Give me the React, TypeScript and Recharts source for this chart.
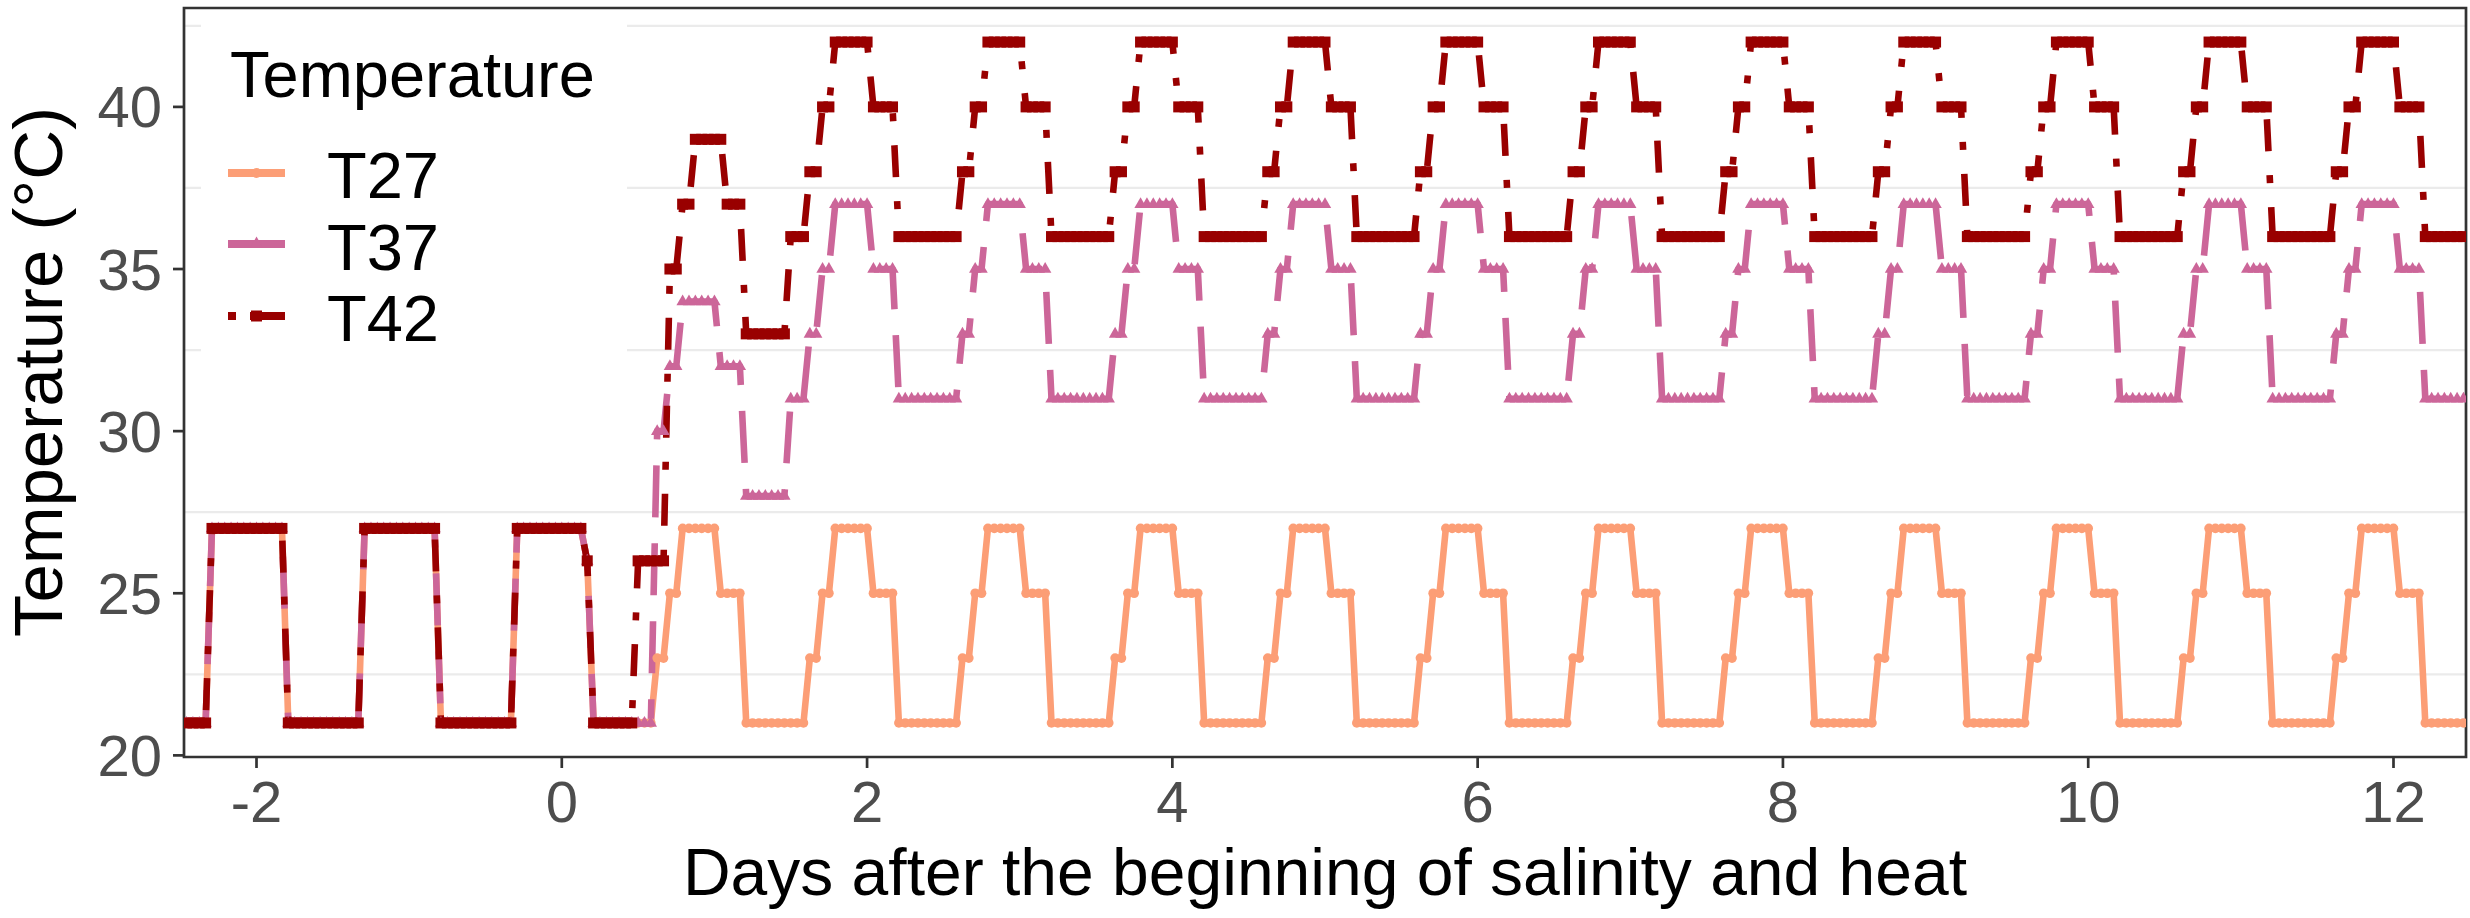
import React from "react";
import {
  LineChart,
  Line,
  XAxis,
  YAxis,
  CartesianGrid,
  ReferenceArea,
} from "recharts";

// hourly set points, first point at hour -59 (day -2.458)
const HOUR_START = -59;

// [temperature, number of hours]
const T27_RUNS: [number, number][] = [
  [21, 4], [27, 12], [21, 12], [27, 12], [21, 12], [27, 11], [26, 1],
  [21, 10], [23, 2], [25, 2], [27, 6], [25, 4], // day 0
  [21, 10], [23, 2], [25, 2], [27, 6], [25, 4], // day 1
  [21, 10], [23, 2], [25, 2], [27, 6], [25, 4], // day 2
  [21, 10], [23, 2], [25, 2], [27, 6], [25, 4], // day 3
  [21, 10], [23, 2], [25, 2], [27, 6], [25, 4], // day 4
  [21, 10], [23, 2], [25, 2], [27, 6], [25, 4], // day 5
  [21, 10], [23, 2], [25, 2], [27, 6], [25, 4], // day 6
  [21, 10], [23, 2], [25, 2], [27, 6], [25, 4], // day 7
  [21, 10], [23, 2], [25, 2], [27, 6], [25, 4], // day 8
  [21, 10], [23, 2], [25, 2], [27, 6], [25, 4], // day 9
  [21, 10], [23, 2], [25, 2], [27, 6], [25, 4], // day 10
  [21, 10], [23, 2], [25, 2], [27, 6], [25, 4], // day 11
  [21, 7],
];

const T37_RUNS: [number, number][] = [
  [21, 4], [27, 12], [21, 12], [27, 12], [21, 12], [27, 11], [26, 1],
  [21, 10], [30, 2], [32, 2], [34, 6], [32, 4], // day 0
  [28, 7], [31, 3], [33, 2], [35, 2], [37, 6], [35, 4], // day 1
  [31, 10], [33, 2], [35, 2], [37, 6], [35, 4], // day 2
  [31, 10], [33, 2], [35, 2], [37, 6], [35, 4], // day 3
  [31, 10], [33, 2], [35, 2], [37, 6], [35, 4], // day 4
  [31, 10], [33, 2], [35, 2], [37, 6], [35, 4], // day 5
  [31, 10], [33, 2], [35, 2], [37, 6], [35, 4], // day 6
  [31, 10], [33, 2], [35, 2], [37, 6], [35, 4], // day 7
  [31, 10], [33, 2], [35, 2], [37, 6], [35, 4], // day 8
  [31, 10], [33, 2], [35, 2], [37, 6], [35, 4], // day 9
  [31, 10], [33, 2], [35, 2], [37, 6], [35, 4], // day 10
  [31, 10], [33, 2], [35, 2], [37, 6], [35, 4], // day 11
  [31, 7],
];

const T42_RUNS: [number, number][] = [
  [21, 4], [27, 12], [21, 12], [27, 12], [21, 12], [27, 11], [26, 1],
  [21, 7], [26, 5], [35, 2], [37, 2], [39, 5], [37, 3], // day 0
  [33, 7], [36, 3], [38, 2], [40, 2], [42, 6], [40, 4], // day 1
  [36, 10], [38, 2], [40, 2], [42, 6], [40, 4], // day 2
  [36, 10], [38, 2], [40, 2], [42, 6], [40, 4], // day 3
  [36, 10], [38, 2], [40, 2], [42, 6], [40, 4], // day 4
  [36, 10], [38, 2], [40, 2], [42, 6], [40, 4], // day 5
  [36, 10], [38, 2], [40, 2], [42, 6], [40, 4], // day 6
  [36, 10], [38, 2], [40, 2], [42, 6], [40, 4], // day 7
  [36, 10], [38, 2], [40, 2], [42, 6], [40, 4], // day 8
  [36, 10], [38, 2], [40, 2], [42, 6], [40, 4], // day 9
  [36, 10], [38, 2], [40, 2], [42, 6], [40, 4], // day 10
  [36, 10], [38, 2], [40, 2], [42, 6], [40, 4], // day 11
  [36, 7],
];

const X_TICKS = [-2, 0, 2, 4, 6, 8, 10, 12];
const Y_TICKS = [20, 25, 30, 35, 40];
const GRID_Y = [22.5, 27.5, 32.5, 37.5, 42.5];
const X_DOMAIN: [number, number] = [-2.475, 12.475];
const Y_DOMAIN: [number, number] = [19.95, 43.05];

const FONT = "'Liberation Sans', Arial, Helvetica, sans-serif";
const C27 = "#FC9E76";
const C37 = "#CC6699";
const C42 = "#990000";
const LW = 6.6;
const DASH37 = "52 26";
const DASH42 = "8 24 32 24";

const expand = (runs: [number, number][]) =>
  runs.flatMap(([v, n]) => Array(n).fill(v) as number[]);

const t27 = expand(T27_RUNS);
const t37 = expand(T37_RUNS);
const t42 = expand(T42_RUNS);

const rows = t27.map((v, i) => ({
  day: (HOUR_START + i) / 24,
  T27: v,
  T37: t37[i],
  T42: t42[i],
}));

const circleDot = (props: any) => {
  const { cx, cy, index } = props;
  return <circle key={`c${index}`} cx={cx} cy={cy} r={4.8} fill={C27} />;
};

const triangleDot = (props: any) => {
  const { cx, cy, index } = props;
  return (
    <polygon
      key={`t${index}`}
      points={`${cx},${cy - 7} ${cx - 6.2},${cy + 3.8} ${cx + 6.2},${cy + 3.8}`}
      fill={C37}
    />
  );
};

const squareDot = (props: any) => {
  const { cx, cy, index } = props;
  return <rect key={`s${index}`} x={cx - 5.5} y={cy - 5.5} width={11} height={11} fill={C42} />;
};

const YTitle = () => (
  <text
    x={62}
    y={372}
    transform="rotate(-90 62 372)"
    textAnchor="middle"
    fontSize={69}
    fontFamily={FONT}
    fill="#000"
  >
    Temperature (°C)
  </text>
);

const XTitle = () => (
  <text x={1325} y={895} textAnchor="middle" fontSize={66} fontFamily={FONT} fill="#000">
    Days after the beginning of salinity and heat
  </text>
);

const LegendBox = () => (
  <svg
    width={2470}
    height={918}
    style={{ position: "absolute", left: 0, top: 0, pointerEvents: "none" }}
  >
    <rect x={201} y={10} width={426} height={360} fill="#fff" />
    <text x={230} y={97} fontSize={65} fontFamily={FONT} fill="#000">
      Temperature
    </text>
    <line x1={228} x2={285} y1={173} y2={173} stroke={C27} strokeWidth={8} />
    <circle cx={256.5} cy={173} r={5} fill={C27} />
    <line x1={228} x2={285} y1={244} y2={244} stroke={C37} strokeWidth={8} />
    <polygon points="256.5,236.5 250,248 263,248" fill={C37} />
    <line x1={228} x2={285} y1={316} y2={316} stroke={C42} strokeWidth={8} strokeDasharray="8 14 40 20" />
    <rect x={251} y={310.5} width={11} height={11} fill={C42} />
    <text x={327} y={198} fontSize={65} fontFamily={FONT} fill="#000">T27</text>
    <text x={327} y={270} fontSize={65} fontFamily={FONT} fill="#000">T37</text>
    <text x={327} y={341} fontSize={65} fontFamily={FONT} fill="#000">T42</text>
  </svg>
);

export default function App() {
  const tickStyle = { fill: "#4D4D4D", fontSize: 58, fontFamily: FONT };
  const tickLine = { stroke: "#333333", strokeWidth: 2.7 };
  return (
    <div style={{ position: "absolute", left: 0, top: 0, width: 2470, height: 918, background: "#fff" }}>
      <LineChart
        width={2470}
        height={918}
        data={rows}
        margin={{ top: 8, right: 4, left: 0, bottom: 0 }}
      >
        <CartesianGrid
          vertical={false}
          horizontalValues={GRID_Y}
          stroke="#EBEBEB"
          strokeWidth={2.2}
        />
        <XAxis
          dataKey="day"
          type="number"
          domain={X_DOMAIN}
          ticks={X_TICKS}
          allowDataOverflow
          height={161}
          axisLine={false}
          tickLine={tickLine}
          tickSize={11}
          tickMargin={13}
          tick={tickStyle}
          label={{ content: () => <XTitle /> }}
        />
        <YAxis
          type="number"
          domain={Y_DOMAIN}
          ticks={Y_TICKS}
          allowDataOverflow
          width={184}
          axisLine={false}
          tickLine={tickLine}
          tickSize={11}
          tickMargin={11}
          tick={tickStyle}
          label={{ content: () => <YTitle /> }}
        />
        <Line
          dataKey="T27"
          type="linear"
          stroke={C27}
          strokeWidth={LW}
          strokeLinejoin="round"
          strokeLinecap="butt"
          dot={circleDot}
          activeDot={false}
          isAnimationActive={false}
        />
        <Line
          dataKey="T37"
          type="linear"
          stroke={C37}
          strokeWidth={LW}
          strokeDasharray={DASH37}
          strokeLinejoin="round"
          strokeLinecap="butt"
          dot={triangleDot}
          activeDot={false}
          isAnimationActive={false}
        />
        <Line
          dataKey="T42"
          type="linear"
          stroke={C42}
          strokeWidth={LW}
          strokeDasharray={DASH42}
          strokeLinejoin="round"
          strokeLinecap="butt"
          dot={squareDot}
          activeDot={false}
          isAnimationActive={false}
        />
        <ReferenceArea
          x1={X_DOMAIN[0]}
          x2={X_DOMAIN[1]}
          y1={Y_DOMAIN[0]}
          y2={Y_DOMAIN[1]}
          fill="none"
          fillOpacity={0}
          stroke="#333333"
          strokeWidth={2.7}
        />
      </LineChart>
      <LegendBox />
    </div>
  );
}
